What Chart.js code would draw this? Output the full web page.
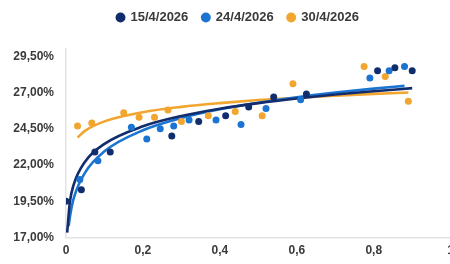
<!DOCTYPE html>
<html>
<head>
<meta charset="utf-8">
<script src="https://cdn.jsdelivr.net/npm/chart.js@4/dist/chart.umd.min.js"></script>
<style>
  html, body { margin: 0; padding: 0; background: #fff; overflow: hidden; }
  #wrap { width: 460px; height: 264px; }
</style>
</head>
<body>
<div id="wrap"><canvas id="c"></canvas></div>
<script>
const seriesNames = ['15/4/2026', '24/4/2026', '30/4/2026'];
const seriesColors = ['#112d6e', '#1c74d2', '#f2a630'];

// pontos (x, %)
const navyX = [0, 0.04, 0.075, 0.115, 0.275, 0.345, 0.415, 0.475, 0.54, 0.625, 0.81, 0.855, 0.9];
const navyY = [19.5, 20.3, 22.9, 22.9, 24.0, 25.0, 25.4, 26.0, 26.7, 26.9, 28.5, 28.7, 28.5];
const blueX = [0.036, 0.083, 0.17, 0.21, 0.245, 0.28, 0.32, 0.39, 0.455, 0.52, 0.61, 0.79, 0.84, 0.88];
const blueY = [21.0, 22.3, 24.6, 23.8, 24.5, 24.7, 25.1, 25.1, 24.8, 25.9, 26.5, 28.0, 28.5, 28.8];
const orangeX = [0.03, 0.067, 0.15, 0.19, 0.23, 0.265, 0.30, 0.37, 0.44, 0.51, 0.59, 0.775, 0.83, 0.89];
const orangeY = [24.7, 24.9, 25.6, 25.3, 25.3, 25.8, 25.0, 25.4, 25.7, 25.4, 27.6, 28.8, 28.1, 26.4];

// linhas de tendência
const navyTrendX = [0.003, 0.01, 0.02, 0.05, 0.1, 0.2, 0.3, 0.4, 0.5, 0.6, 0.7, 0.8, 0.9];
const navyTrendY = [17.34, 19.44, 20.65, 22.25, 23.46, 24.67, 25.38, 25.88, 26.27, 26.59, 26.86, 27.09, 27.30];
const blueTrendX = [0.007, 0.01, 0.02, 0.05, 0.1, 0.2, 0.3, 0.4, 0.5, 0.6, 0.7, 0.8, 0.88];
const blueTrendY = [17.80, 18.40, 19.70, 21.50, 22.95, 24.40, 25.25, 25.85, 26.30, 26.68, 27.00, 27.27, 27.46];
const orangeTrendX = [0.03, 0.05, 0.1, 0.2, 0.3, 0.4, 0.5, 0.6, 0.7, 0.8, 0.89];
const orangeTrendY = [23.90, 24.37, 25.01, 25.64, 26.01, 26.27, 26.48, 26.64, 26.78, 26.91, 27.00];

const xTicks = [0, 0.2, 0.4, 0.6, 0.8, 1];
const xTickLabels = ['0', '0,2', '0,4', '0,6', '0,8', '1'];
const yTicks = [17, 19.5, 22, 24.5, 27, 29.5];
const yTickLabels = ['17,00%', '19,50%', '22,00%', '24,50%', '27,00%', '29,50%'];

const pts = (xs, ys) => xs.map((x, i) => ({ x: x, y: ys[i] }));
const txt = '#3a3a3a';
const font = { family: 'Liberation Sans, Arial, sans-serif', weight: 'bold', size: 12 };

function scatterSet(i, xs, ys) {
  return { type: 'scatter', label: seriesNames[i], data: pts(xs, ys), backgroundColor: seriesColors[i],
    borderColor: seriesColors[i], pointRadius: 3.5, pointHoverRadius: 3.5, borderWidth: 0 };
}
function trendSet(i, xs, ys) {
  return { type: 'line', label: 'trend' + i, data: pts(xs, ys), borderColor: seriesColors[i], borderWidth: 2.6,
    pointRadius: 0, fill: false, cubicInterpolationMode: 'monotone' };
}

// mais espaço abaixo da legenda e legenda um pouco à direita
const legendSpace = {
  id: 'legendSpace',
  beforeInit(chart) {
    const fit = chart.legend.fit;
    chart.legend.fit = function () { fit.call(this); this.height += 15; };
  },
  afterLayout(chart) {
    chart.legend.left += 8;
    chart.legend.right += 8;
  }
};

new Chart(document.getElementById('c'), {
  type: 'scatter',
  data: {
    datasets: [
      scatterSet(0, navyX, navyY),
      scatterSet(1, blueX, blueY),
      scatterSet(2, orangeX, orangeY),
      trendSet(0, navyTrendX, navyTrendY),
      trendSet(1, blueTrendX, blueTrendY),
      trendSet(2, orangeTrendX, orangeTrendY)
    ]
  },
  plugins: [legendSpace],
  options: {
    responsive: true, maintainAspectRatio: false, animation: false,
    layout: { padding: { top: -3, bottom: 0, left: 0, right: 0 } },
    scales: {
      x: {
        type: 'linear', min: 0, max: 1,
        afterBuildTicks: s => { s.ticks = xTicks.map(v => ({ value: v })); },
        grid: { display: false, drawTicks: false },
        border: { color: '#e3e3e3', width: 1.5 },
        ticks: { color: txt, font: font, padding: 6, maxRotation: 0,
          callback: (v) => xTickLabels[xTicks.indexOf(v)] }
      },
      y: {
        min: 17, max: 30,
        afterBuildTicks: s => { s.ticks = yTicks.map(v => ({ value: v })); },
        afterFit: s => { s.width = 66; },
        grid: { display: false, drawTicks: false },
        border: { color: '#e3e3e3', width: 1.5 },
        ticks: { color: txt, font: font, padding: 12,
          callback: (v) => yTickLabels[yTicks.indexOf(v)] }
      }
    },
    plugins: {
      tooltip: { enabled: false },
      legend: {
        position: 'top',
        labels: {
          filter: item => item.datasetIndex < 3,
          usePointStyle: true, pointStyle: 'circle', boxWidth: 7, boxHeight: 7,
          color: txt, font: { family: 'Liberation Sans, Arial, sans-serif', weight: 'bold', size: 13 },
          padding: 14
        }
      }
    }
  }
});
</script>
</body>
</html>
